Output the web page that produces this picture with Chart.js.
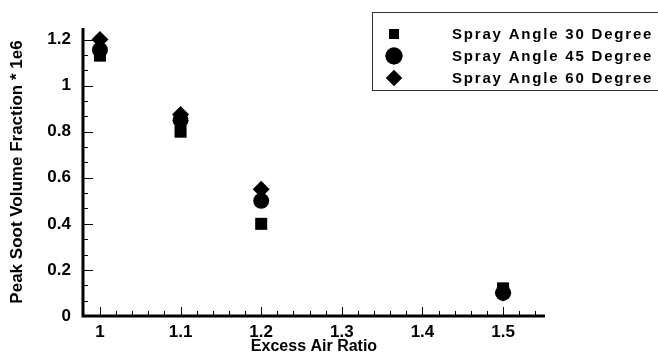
<!DOCTYPE html>
<html><head><meta charset="utf-8">
<script src="https://cdn.jsdelivr.net/npm/chart.js@4"></script>
<style>html,body{margin:0;padding:0;background:#fff}#w{width:658px;height:354px}</style>
</head><body><div id="w"><canvas id="c" width="658" height="354"></canvas></div>
<script>
const seriesLabels = ['Spray Angle 30 Degree', 'Spray Angle 45 Degree', 'Spray Angle 60 Degree'];
const excessAir30 = [1.0, 1.1, 1.2, 1.5];
const soot30 = [1.13, 0.80, 0.40, 0.12];
const excessAir45 = [1.0, 1.1, 1.2, 1.5];
const soot45 = [1.155, 0.85, 0.50, 0.10];
const excessAir60 = [1.0, 1.1, 1.2, 1.5];
const soot60 = [1.20, 0.875, 0.55, 0.10];
const xTicks = [1, 1.1, 1.2, 1.3, 1.4, 1.5];
const yTicks = [0, 0.2, 0.4, 0.6, 0.8, 1, 1.2];
const xTitle = 'Excess Air Ratio';
const yTitle = 'Peak Soot Volume Fraction * 1e6';

const pts = (xs, ys) => xs.map((x, i) => ({x, y: ys[i]}));
const styles = [
  {pointStyle: 'rect', radius: 8.5},
  {pointStyle: 'circle', radius: 8},
  {pointStyle: 'rectRot', radius: 8.5}
];
const datasets = [
  pts(excessAir30, soot30), pts(excessAir45, soot45), pts(excessAir60, soot60)
].map((d, i) => ({
  label: seriesLabels[i], data: d, showLine: false,
  pointStyle: styles[i].pointStyle, pointRadius: styles[i].radius,
  pointHoverRadius: styles[i].radius,
  backgroundColor: '#000', borderColor: '#000', borderWidth: 0
}));

const FONT = "'Liberation Sans', Arial, sans-serif";

const extras = {
  id: 'extras',
  afterDraw(chart) {
    const ctx = chart.ctx, xs = chart.scales.x, ys = chart.scales.y;
    const ca = chart.chartArea;
    ctx.save();
    ctx.strokeStyle = '#000';
    ctx.lineWidth = 1;
    for (let k = 0; ; k++) {
      const v = 1 + k * 0.02;
      if (v > xs.max + 1e-9) break;
      const px = Math.round(xs.getPixelForValue(v)) + 0.5;
      const major = k % 5 === 0;
      ctx.beginPath();
      ctx.moveTo(px, ca.bottom);
      ctx.lineTo(px, ca.bottom - (major ? 9 : 5));
      ctx.stroke();
    }
    for (let k = 0; ; k++) {
      const v = k * 0.2 / 3;
      if (v > ys.max + 1e-9) break;
      const py = Math.round(ys.getPixelForValue(v)) + 0.5;
      const major = k % 3 === 0;
      ctx.beginPath();
      ctx.moveTo(ca.left, py);
      ctx.lineTo(ca.left + (major ? 10 : 5), py);
      ctx.stroke();
    }
    ctx.lineWidth = 3;
    ctx.beginPath();
    ctx.moveTo(ca.left, ca.top);
    ctx.lineTo(ca.left, ca.bottom);
    ctx.lineTo(ca.right, ca.bottom);
    ctx.stroke();
    // legend
    const bx = 372, by = 12, bw = 290, bh = 78;
    ctx.lineWidth = 1;
    ctx.strokeStyle = '#333';
    ctx.strokeRect(bx + 0.5, by + 0.5, bw, bh);
    ctx.font = "bold 15px " + FONT;
    try { ctx.letterSpacing = '1.8px'; } catch (e) {}
    ctx.fillStyle = '#000';
    ctx.textBaseline = 'middle';
    ctx.textAlign = 'left';
    const rows = [34, 56, 78];
    const legR = [7, 8.5, 8];
    chart.data.datasets.forEach((ds, i) => {
      Chart.helpers.drawPoint(ctx, {pointStyle: ds.pointStyle, radius: legR[i], borderWidth: 0}, 394, rows[i]);
      ctx.fillStyle = '#000';
      ctx.fill();
      ctx.fillText(ds.label, 452, rows[i] + 1);
    });
    ctx.restore();
  }
};

new Chart(document.getElementById('c'), {
  type: 'scatter',
  data: {datasets},
  options: {
    responsive: false, animation: false, devicePixelRatio: 1,
    layout: {padding: {top: 28, right: 113, left: 0, bottom: 0}},
    plugins: {legend: {display: false}, tooltip: {enabled: false}},
    scales: {
      x: {
        type: 'linear', min: 0.979, max: 1.552,
        afterFit(s) { s.height = 38; },
        afterBuildTicks(s) { s.ticks = xTicks.map(v => ({value: v})); },
        grid: {display: false, drawTicks: false},
        border: {display: false},
        ticks: {color: '#000', padding: 6, font: {family: FONT, size: 17, weight: 'bold'},
          callback: v => String(v), maxRotation: 0, autoSkip: false},
        title: {display: true, text: xTitle, color: '#000', padding: {top: 0, bottom: -2},
          font: {family: FONT, size: 16, weight: 'bold'}}
      },
      y: {
        type: 'linear', min: 0, max: 1.25,
        afterFit(s) { s.width = 83; },
        afterBuildTicks(s) { s.ticks = yTicks.map(v => ({value: v})); },
        grid: {display: false, drawTicks: false},
        border: {display: false},
        ticks: {color: '#000', padding: 12, font: {family: FONT, size: 17, weight: 'bold'},
          callback: v => String(v), autoSkip: false},
        title: {display: true, text: yTitle, color: '#000', padding: {top: 7, bottom: 0},
          font: {family: FONT, size: 17, weight: 'bold'}}
      }
    }
  },
  plugins: [extras]
});
</script>
</body></html>
